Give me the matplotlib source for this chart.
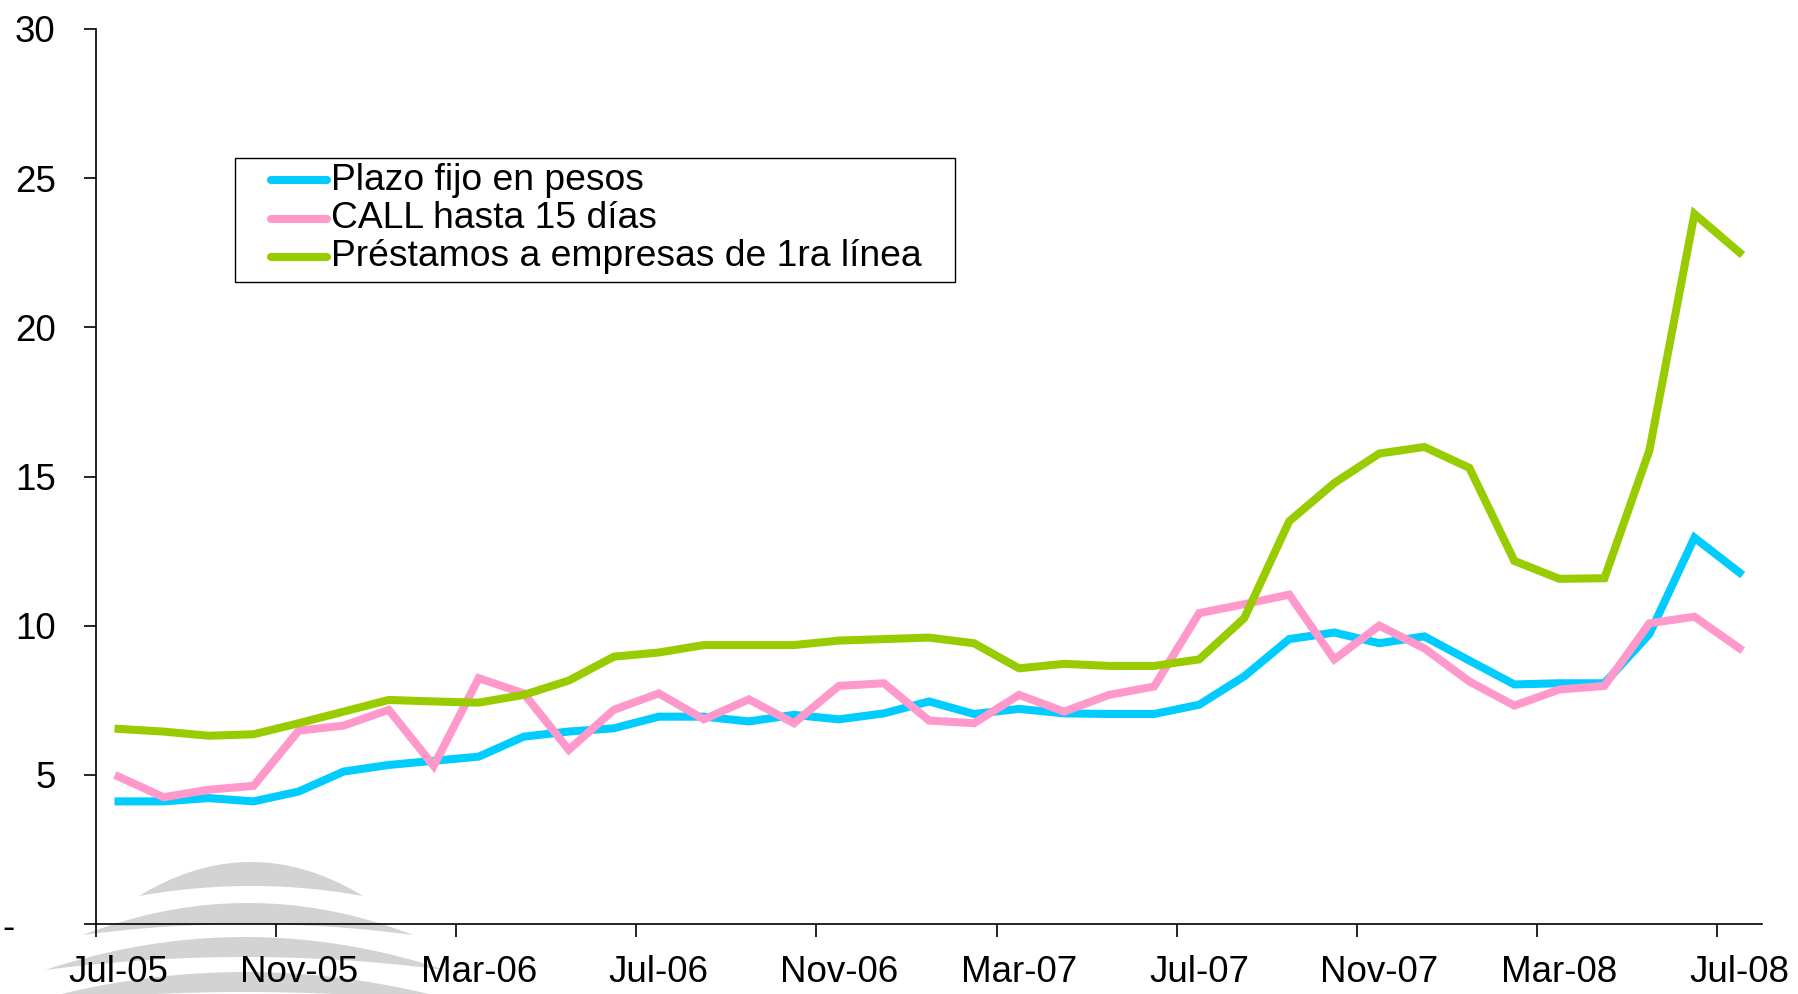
import matplotlib
matplotlib.use("Agg")
import matplotlib.pyplot as plt
from matplotlib.patches import Polygon, Rectangle
from matplotlib.lines import Line2D
from matplotlib.transforms import ScaledTranslation
import numpy as np

# monthly series, Jul-05 .. Jul-08 (37 months)
plazo_fijo = [4.11, 4.11, 4.22, 4.11, 4.44, 5.11, 5.33, 5.47, 5.61, 6.28, 6.45, 6.56,
              6.95, 6.95, 6.79, 7.01, 6.86, 7.06, 7.46, 7.04, 7.21, 7.06, 7.04, 7.04,
              7.35, 8.30, 9.55, 9.77, 9.41, 9.64, 8.83, 8.03, 8.07, 8.07, 9.72, 12.95, 11.78]
call_15 = [4.94, 4.25, 4.50, 4.63, 6.48, 6.65, 7.18, 5.30, 8.24, 7.73, 5.84, 7.18,
           7.73, 6.86, 7.53, 6.73, 7.98, 8.07, 6.82, 6.73, 7.68, 7.12, 7.68, 7.96,
           10.42, 10.72, 11.04, 8.87, 10.00, 9.24, 8.13, 7.32, 7.86, 7.98, 10.08, 10.30, 9.24]
prestamos = [6.54, 6.45, 6.31, 6.36, 6.73, 7.12, 7.51, 7.46, 7.42, 7.68, 8.16, 8.96,
             9.10, 9.35, 9.35, 9.35, 9.50, 9.55, 9.60, 9.41, 8.57, 8.72, 8.65, 8.65,
             8.87, 10.25, 13.50, 14.78, 15.77, 15.99, 15.29, 12.17, 11.57, 11.59, 15.88, 23.80, 22.51]

month_labels = ['Jul-05', 'Nov-05', 'Mar-06', 'Jul-06', 'Nov-06',
                'Mar-07', 'Jul-07', 'Nov-07', 'Mar-08', 'Jul-08']
series_names = ['Plazo fijo en pesos', 'CALL hasta 15 días',
                'Préstamos a empresas de 1ra línea']
colors = ['#00CCFF', '#FF99CC', '#99CC00']

plt.rcParams['font.family'] = ['Liberation Sans', 'DejaVu Sans']
FS = 26.5
LW = 5.8
W, H = 1799, 994

fig = plt.figure(figsize=(W / 100, H / 100), dpi=100)
fig.patch.set_facecolor('white')

# grey crescent watermark, bottom left (pixel coords, y from top)
def crescent(cx, half, tip_y, up_h, lo_h):
    t = np.linspace(-1, 1, 80)
    xs = cx + half * t
    top = tip_y - up_h * (1 - t ** 2)
    bot = tip_y - lo_h * (1 - t ** 2)
    px = np.concatenate([xs, xs[::-1]])
    py = np.concatenate([top, bot[::-1]])
    return np.column_stack([px / W, 1 - py / H])

for cx, half, tip, uh, lh in [(251, 112, 896, 34, 10), (248, 165, 935, 32, 11),
                              (245, 200, 970, 33, 13), (245, 225, 1005, 33, 13)]:
    fig.patches.append(Polygon(crescent(cx, half, tip, uh, lh), closed=True,
                               transform=fig.transFigure, facecolor='#D3D3D3',
                               edgecolor='none', zorder=-2))

ax = fig.add_axes([96 / W, (H - 924) / H, (1762 - 96) / W, (924 - 29) / H])
ax.patch.set_alpha(0)
ax.set_zorder(1)

x = np.arange(len(plazo_fijo))
for vals, c in zip([plazo_fijo, call_15, prestamos], colors):
    ax.plot(x, vals, color=c, lw=LW, solid_joinstyle='miter', zorder=3)

ax.set_xlim(-0.5, len(x) - 0.5)
ax.set_ylim(0, 30)

for s in ['top', 'right']:
    ax.spines[s].set_visible(False)
for s in ['left', 'bottom']:
    ax.spines[s].set_linewidth(1.2)

# x: tick marks between categories, labels every 4 months
ax.set_xticks(np.arange(-0.5, len(x), 4))
ax.set_xticklabels([])
ax.set_xticks(np.arange(0, len(x), 4), minor=True)
ax.set_xticklabels(month_labels, minor=True, fontsize=FS)
ax.tick_params(axis='x', which='major', direction='out', length=9, width=1.2)
ax.tick_params(axis='x', which='minor', length=0, pad=22)

ax.set_yticks(np.arange(0, 31, 5))
ax.set_yticklabels(['-', '5', '10', '15', '20', '25', '30'], fontsize=FS)
ax.tick_params(axis='y', direction='out', length=9, width=1.2, pad=20)
dash = ax.get_yticklabels()[0]
dash.set_transform(dash.get_transform() + ScaledTranslation(-0.41, 0, fig.dpi_scale_trans))

# legend box (Excel style)
fig.patches.append(Rectangle((235 / W, 1 - 282 / H), (955 - 235) / W, (282 - 158) / H,
                             transform=fig.transFigure, facecolor='white',
                             edgecolor='black', lw=1.0, zorder=4))
for i, (name, c) in enumerate(zip(series_names, colors)):
    yy = 1 - (180 + 38.5 * i) / H
    fig.lines.append(Line2D([271 / W, 327 / W], [yy, yy], transform=fig.transFigure,
                            color=c, lw=LW, solid_capstyle='round', zorder=5))
    fig.text(331 / W, yy, name, fontsize=26.8, va='center', ha='left', zorder=5)

fig.savefig('out.png', dpi=100)
